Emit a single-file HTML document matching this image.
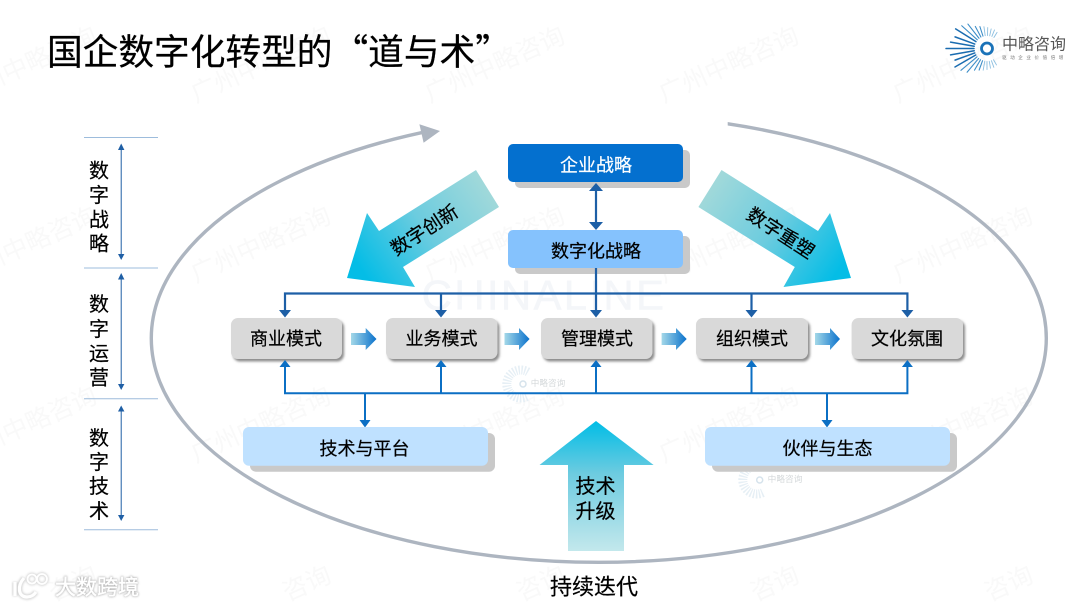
<!DOCTYPE html>
<html lang="zh"><head><meta charset="utf-8"><style>
html,body{margin:0;padding:0;background:#fff;width:1080px;height:608px;overflow:hidden}
svg{display:block}
text{font-family:"Liberation Sans","Noto Sans CJK SC",sans-serif;fill:#000}
.c{text-anchor:middle;dominant-baseline:central}
.k{stroke:#000;stroke-width:.22px}
.wm{font-size:25px;fill:#f9f9f9;text-anchor:middle;dominant-baseline:central}
</style></head><body>
<svg width="1080" height="608" viewBox="0 0 1080 608" xmlns="http://www.w3.org/2000/svg">
<defs>
<linearGradient id="gl" gradientUnits="userSpaceOnUse" x1="365" y1="275" x2="490" y2="188"><stop offset="0" stop-color="#04bde6"/><stop offset=".5" stop-color="#6cccdf"/><stop offset="1" stop-color="#a2d9da"/></linearGradient>
<linearGradient id="gr" gradientUnits="userSpaceOnUse" x1="835" y1="275" x2="708" y2="188"><stop offset="0" stop-color="#04bde6"/><stop offset=".5" stop-color="#6cccdf"/><stop offset="1" stop-color="#a2d9da"/></linearGradient>
<linearGradient id="gu" x1="0" y1="0" x2="0" y2="1"><stop offset="0" stop-color="#00bde6"/><stop offset=".4" stop-color="#6ccbe0"/><stop offset="1" stop-color="#c3e8ec"/></linearGradient>
<linearGradient id="gb" x1="0" y1="0" x2="1" y2="0"><stop offset="0" stop-color="#a4d8e8"/><stop offset="1" stop-color="#0a72cc"/></linearGradient>
<filter id="sh" x="-10%" y="-10%" width="125%" height="130%"><feDropShadow dx="2" dy="2.5" stdDeviation="1.2" flood-color="#666" flood-opacity=".75"/></filter>
<filter id="bl" x="-10%" y="-30%" width="120%" height="160%"><feGaussianBlur stdDeviation="1"/></filter>
<clipPath id="gap"><rect x="0" y="0" width="425" height="608"/><rect x="727.7" y="0" width="352.3" height="608"/><rect x="0" y="200" width="1080" height="408"/></clipPath>
</defs>

<!-- watermark -->
<g>
<text class="wm" transform="translate(27 65) rotate(-24)">广州中略咨询</text>
<text class="wm" transform="translate(261 65) rotate(-24)">广州中略咨询</text>
<text class="wm" transform="translate(495 65) rotate(-24)">广州中略咨询</text>
<text class="wm" transform="translate(729 65) rotate(-24)">广州中略咨询</text>
<text class="wm" transform="translate(963 65) rotate(-24)">广州中略咨询</text>
<text class="wm" transform="translate(27 245) rotate(-24)">广州中略咨询</text>
<text class="wm" transform="translate(261 245) rotate(-24)">广州中略咨询</text>
<text class="wm" transform="translate(495 245) rotate(-24)">广州中略咨询</text>
<text class="wm" transform="translate(729 245) rotate(-24)">广州中略咨询</text>
<text class="wm" transform="translate(963 245) rotate(-24)">广州中略咨询</text>
<text class="wm" transform="translate(27 425) rotate(-24)">广州中略咨询</text>
<text class="wm" transform="translate(261 425) rotate(-24)">广州中略咨询</text>
<text class="wm" transform="translate(495 425) rotate(-24)">广州中略咨询</text>
<text class="wm" transform="translate(729 425) rotate(-24)">广州中略咨询</text>
<text class="wm" transform="translate(963 425) rotate(-24)">广州中略咨询</text>
<text class="wm" transform="translate(73 584) rotate(-24)">咨询</text>
<text class="wm" transform="translate(307 584) rotate(-24)">咨询</text>
<text class="wm" transform="translate(541 584) rotate(-24)">咨询</text>
<text class="wm" transform="translate(775 584) rotate(-24)">咨询</text>
<text class="wm" transform="translate(1009 584) rotate(-24)">咨询</text>
<text x="544" y="295" class="c" style="font-size:42px;fill:#f4f6f9;stroke:#f4f6f9;stroke-width:.5px;letter-spacing:2.3px">CHINALINE</text>
<!-- small mark watermarks -->
<g>
<path d="M528 372 A14 14 0 1 0 528 396" fill="none" stroke="#e6eff5" stroke-width="9" stroke-dasharray="1.4 1.4"/>
<circle cx="523" cy="384" r="3" fill="none" stroke="#d6e3ec" stroke-width="1.5"/>
<text x="548" y="383" class="c" style="font-size:8.6px;fill:#d4d8da">中略咨询</text>
<path d="M764 468 A14 14 0 1 0 764 492" fill="none" stroke="#e6eff5" stroke-width="9" stroke-dasharray="1.4 1.4"/>
<circle cx="759.7" cy="480" r="3" fill="none" stroke="#d6e3ec" stroke-width="1.5"/>
<text x="785" y="479" class="c" style="font-size:8.7px;fill:#d4d8da">中略咨询</text>
</g>
</g>

<!-- title -->
<text x="47" y="50" class="k" style="font-family:'Noto Sans CJK SC',sans-serif;font-size:35.7px;dominant-baseline:central">国企数字化转型的“道与术”</text>

<!-- logo -->
<g transform="translate(987 48.5)" stroke-linecap="round">
<g stroke="#1a6cb0" stroke-width="1.5">
<line x1="13" x2="41" transform="rotate(180)"/>
<line x1="13" x2="37" transform="rotate(170)"/>
<line x1="13" x2="37" transform="rotate(190)"/>
<line x1="13" x2="34" transform="rotate(160)"/>
<line x1="13" x2="34" transform="rotate(200)"/>
<line x1="13" x2="37" transform="rotate(150)"/>
<line x1="13" x2="37" transform="rotate(212)"/>
</g>
<g stroke="#3d8ec8" stroke-width="1.1">
<line x1="13" x2="34" transform="rotate(140)"/>
<line x1="13" x2="34" transform="rotate(222)"/>
<line x1="13" x2="31" transform="rotate(130)"/>
<line x1="13" x2="31" transform="rotate(232)"/>
<line x1="13" x2="25" transform="rotate(120)"/>
<line x1="13" x2="25" transform="rotate(242)"/>
<line x1="13" x2="23" transform="rotate(110)"/>
<line x1="13" x2="23" transform="rotate(252)"/>
</g>
<g stroke="#8cbfe0" stroke-width=".9">
<line x1="13" x2="22" transform="rotate(100)"/>
<line x1="13" x2="22" transform="rotate(262)"/>
<line x1="13" x2="21" transform="rotate(90)"/>
<line x1="13" x2="21" transform="rotate(272)"/>
<line x1="13" x2="20" transform="rotate(80)"/>
<line x1="13" x2="20" transform="rotate(282)"/>
<line x1="13" x2="20" transform="rotate(70)"/>
<line x1="13" x2="20" transform="rotate(292)"/>
<line x1="13" x2="19" transform="rotate(60)"/>
<line x1="13" x2="19" transform="rotate(302)"/>
</g>
<circle r="5.5" fill="#fff" stroke="#1a72b8" stroke-width="2.8"/>
</g>
<text x="1034" y="45" class="c" style="font-size:16px;fill:#555">中略咨询</text>
<text x="1034.5" y="57.5" class="c" style="font-size:4.5px;fill:#777;letter-spacing:3.6px">驱动企业价值倍增</text>

<!-- big ellipse -->
<ellipse cx="598.8" cy="338.3" rx="447.5" ry="224" fill="none" stroke="#adb5c0" stroke-width="3.4" clip-path="url(#gap)"/>
<polygon points="440,131 419.4,124.3 423.6,142.7" fill="#adb5c0"/>

<!-- left scale -->
<g stroke="#9dbcdc" stroke-width="1">
<line x1="84" x2="158" y1="137.5" y2="137.5"/>
<line x1="84" x2="158" y1="268" y2="268"/>
<line x1="84" x2="158" y1="398.8" y2="398.8"/>
<line x1="84" x2="158" y1="529.7" y2="529.7"/>
</g>
<g stroke="#1f5fa5" stroke-width="1">
<line x1="121.2" x2="121.2" y1="146" y2="257"/>
<line x1="121.2" x2="121.2" y1="276" y2="387"/>
<line x1="121.2" x2="121.2" y1="408" y2="518"/>
</g>
<g fill="#1f5fa5">
<polygon points="121.2,143.5 118,150 124.4,150"/>
<polygon points="121.2,260 118,254 124.4,254"/>
<polygon points="121.2,273 118,279.5 124.4,279.5"/>
<polygon points="121.2,390 118,384 124.4,384"/>
<polygon points="121.2,405.5 118,411.5 124.4,411.5"/>
<polygon points="121.2,521 118,515 124.4,515"/>
</g>
<g style="font-size:20px">
<text class="c k" x="99" y="171.5">数</text><text class="c k" x="99" y="196">字</text><text class="c k" x="99" y="220.5">战</text><text class="c k" x="99" y="244.5">略</text>
<text class="c k" x="99" y="305">数</text><text class="c k" x="99" y="330">字</text><text class="c k" x="99" y="354.5">运</text><text class="c k" x="99" y="378.5">营</text>
<text class="c k" x="99" y="439">数</text><text class="c k" x="99" y="463">字</text><text class="c k" x="99" y="487">技</text><text class="c k" x="99" y="512">术</text>
</g>

<!-- diagonal arrows -->
<polygon points="476,170 499,207 403,267 415,287 347,278 367,213 379,231" fill="url(#gl)"/>
<polygon points="721.5,170 698.4,207 794.8,267 783.5,287 851,278 830,213 818,231" fill="url(#gr)"/>
<text class="c k" style="font-size:19px" transform="translate(425 231) rotate(-33)">数字创新</text>
<text class="c k" style="font-size:19px" transform="translate(780 234) rotate(33)">数字重塑</text>

<!-- top boxes -->
<rect x="515" y="150" width="175" height="38" rx="5" fill="#c9c9c9"/>
<rect x="508" y="144" width="175" height="38" rx="5" fill="#0470cf"/>
<text x="596" y="165.5" class="c" style="font-size:18px;fill:#fff;stroke:#fff;stroke-width:.2px">企业战略</text>
<rect x="515" y="236" width="175" height="38" rx="5" fill="#c9c9c9"/>
<rect x="508" y="230" width="175" height="38" rx="5" fill="#85c2fd"/>
<text x="596" y="251.5" class="c k" style="font-size:18px">数字化战略</text>

<!-- top connectors -->
<g stroke="#1d5fa6" stroke-width="2.2" fill="none">
<line x1="596" x2="596" y1="188" y2="224"/>
<line x1="596" x2="596" y1="268" y2="314"/>
<path d="M285 313 V293.5 H907.4 V313"/>
<line x1="441" x2="441" y1="293.5" y2="313"/>
<line x1="751.5" x2="751.5" y1="293.5" y2="313"/>
</g>
<g fill="#1d5fa6">
<polygon points="596,183 589,191 603,191"/>
<polygon points="596,230 589,222 603,222"/>
<polygon points="285,317.5 279,310 291,310"/>
<polygon points="441,317.5 435,310 447,310"/>
<polygon points="596,317.5 590,310 602,310"/>
<polygon points="751.5,317.5 745.5,310 757.5,310"/>
<polygon points="907.4,317.5 901.4,310 913.4,310"/>
</g>

<!-- model boxes -->
<g fill="#d9d9d9" filter="url(#sh)">
<rect x="231" y="318" width="111" height="41" rx="7"/>
<rect x="386" y="318" width="111.5" height="41" rx="7"/>
<rect x="541" y="318" width="111.5" height="41" rx="7"/>
<rect x="696" y="318" width="112" height="41" rx="7"/>
<rect x="851.6" y="318" width="111.4" height="41" rx="7"/>
</g>
<g style="font-size:18px">
<text class="c k" x="286" y="339">商业模式</text>
<text class="c k" x="441.5" y="339">业务模式</text>
<text class="c k" x="597" y="339">管理模式</text>
<text class="c k" x="752" y="339">组织模式</text>
<text class="c k" x="907" y="339">文化氛围</text>
</g>

<!-- block arrows -->
<polygon points="351,333 365.7,333 365.7,328 376.5,339 365.7,350 365.7,345 351,345" fill="url(#gb)"/>
<polygon points="504.5,333 519,333 519,328 529.6,339 519,350 519,345 504.5,345" fill="url(#gb)"/>
<polygon points="661.6,333 676,333 676,328 686.7,339 676,350 676,345 661.6,345" fill="url(#gb)"/>
<polygon points="815,333 830,333 830,328 840,339 830,350 830,345 815,345" fill="url(#gb)"/>

<!-- lower connectors -->
<g stroke="#0b6fc4" stroke-width="2" fill="none">
<path d="M285 364 V393.3 H907.4 V364"/>
<line x1="441" x2="441" y1="393.3" y2="364"/>
<line x1="596" x2="596" y1="393.3" y2="364"/>
<line x1="751.5" x2="751.5" y1="393.3" y2="364"/>
<line x1="365" x2="365" y1="393.3" y2="423"/>
<line x1="827" x2="827" y1="393.3" y2="423"/>
</g>
<g fill="#0b6fc4">
<polygon points="285,360 279.5,367 290.5,367"/>
<polygon points="441,360 435.5,367 446.5,367"/>
<polygon points="596,360 590.5,367 601.5,367"/>
<polygon points="751.5,360 746,367 757,367"/>
<polygon points="907.4,360 901.9,367 912.9,367"/>
<polygon points="365,427.5 359.5,420 370.5,420"/>
<polygon points="827,427.5 821.5,420 832.5,420"/>
</g>

<!-- tech boxes -->
<rect x="250" y="433" width="245" height="38.7" rx="6" fill="#c9c9c9"/>
<rect x="243" y="427" width="245" height="38.7" rx="6" fill="#bfe1ff"/>
<text x="364.5" y="449" class="c k" style="font-size:18px">技术与平台</text>
<rect x="712" y="433" width="245" height="38.7" rx="6" fill="#c9c9c9"/>
<rect x="705" y="427" width="245" height="38.7" rx="6" fill="#bfe1ff"/>
<text x="827.5" y="449" class="c k" style="font-size:18px">伙伴与生态</text>

<!-- up arrow -->
<polygon points="596,421 653.6,465 624,465 624,551 568,551 568,465 539.5,465" fill="url(#gu)"/>
<text x="595.5" y="487" class="c k" style="font-size:20px">技术</text>
<text x="595.5" y="512" class="c k" style="font-size:20px">升级</text>

<text x="594" y="587" class="c k" style="font-size:22px">持续迭代</text>

<!-- bottom-left mark -->
<g fill="none" stroke="#c4c4c4" stroke-width="5.5" opacity=".7" filter="url(#bl)">
<path d="M15 582 V596 M24 578 C17 586 18 597 27 597 C31 597 34 595 36 592"/>
<circle cx="32" cy="579" r="4.5" stroke-width="3.5"/><circle cx="42" cy="579" r="5" stroke-width="3.5"/>
</g>
<g fill="none" stroke="#fff" stroke-width="3.2">
<path d="M15 582 V596 M24 578 C17 586 18 597 27 597 C31 597 34 595 36 592"/>
<circle cx="32" cy="579" r="4.5" stroke-width="1.8"/><circle cx="42" cy="579" r="5" stroke-width="1.8"/>
</g>
<text x="97" y="588" class="c" filter="url(#bl)" style="font-size:21px;fill:#aaa;stroke:#aaa;stroke-width:1px">大数跨境</text>
<text x="97" y="588" class="c" style="font-size:21px;fill:#fff;stroke:#fff;stroke-width:.4px">大数跨境</text>
</svg>
</body></html>
